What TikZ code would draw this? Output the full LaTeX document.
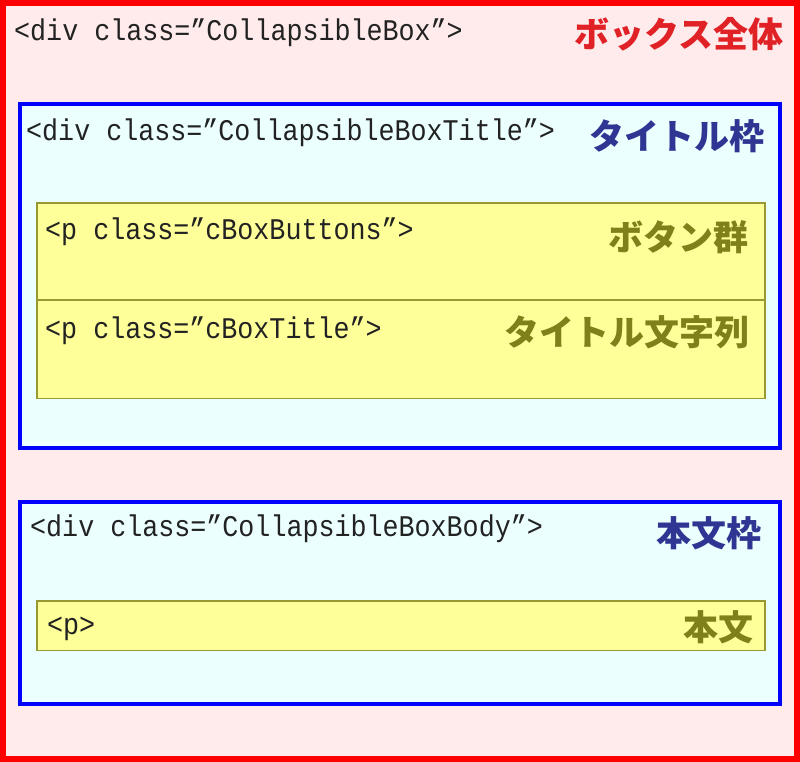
\documentclass[tikz,border=0pt]{standalone}
\usepackage{fontspec}
\newfontfamily\codefont[FakeStretch=0.89]{Liberation Mono}
\newfontfamily\jpfont{Noto Sans CJK JP}
\definecolor{outerfill}{HTML}{FFEBEB}
\definecolor{outerline}{HTML}{FF0000}
\definecolor{divfill}{HTML}{EBFFFF}
\definecolor{divline}{HTML}{0000FF}
\definecolor{pfill}{HTML}{FFFF99}
\definecolor{pline}{HTML}{999933}
\definecolor{redlabel}{HTML}{E02226}
\definecolor{bluelabel}{HTML}{2E3592}
\definecolor{olivelabel}{HTML}{80801A}
\definecolor{codetext}{HTML}{222222}
\tikzset{
  outerbox/.style={draw=outerline, fill=outerfill, line width=6pt, inner sep=0pt},
  divbox/.style={draw=divline, fill=divfill, line width=4pt, inner sep=0pt},
  pbox/.style={draw=pline, fill=pfill, line width=1.8pt, inner sep=0pt},
  code/.style={anchor=base west, inner sep=0pt, text=codetext, font=\codefont\fontsize{30}{34}\selectfont},
  jlabel/.style={anchor=base east, inner sep=0pt, font=\jpfont\bfseries\fontsize{35}{40}\selectfont},
}
\begin{document}
\begin{tikzpicture}[x=1pt,y=-1pt]
\useasboundingbox (0,0) rectangle (800,762);
\node[outerbox, minimum width=794pt, minimum height=756pt] (outer) at (400,381) {};
\node[divbox, minimum width=760pt, minimum height=344pt] (titlediv) at (400,276) {};
\node[divbox, minimum width=760pt, minimum height=202pt] (bodydiv) at (400,603) {};
\node[pbox, minimum width=728pt, minimum height=97pt] (buttons) at (401,251.5) {};
\node[pbox, minimum width=728pt, minimum height=98.5pt] (ptitle) at (401,349.25) {};
\node[pbox, minimum width=728pt, minimum height=49.5pt] (pbody) at (401,625.75) {};

\node[code] (t1) at (14,41) {<div class=”CollapsibleBox”>};
\node[code] (t2) at (26,141) {<div class=”CollapsibleBoxTitle”>};
\node[code] (t3) at (45,240) {<p class=”cBoxButtons”>};
\node[code] (t4) at (45,338) {<p class=”cBoxTitle”>};
\node[code] (t5) at (30,536) {<div class=”CollapsibleBoxBody”>};
\node[code] (t6) at (47,634) {<p>};

\node[jlabel, text=redlabel] (l1) at (784,48) {ボックス全体};
\node[jlabel, text=bluelabel] (l2) at (765,150) {タイトル枠};
\node[jlabel, text=olivelabel] (l3) at (749,250) {ボタン群};
\node[jlabel, text=olivelabel] (l4) at (750,345) {タイトル文字列};
\node[jlabel, text=bluelabel] (l5) at (762,546) {本文枠};
\node[jlabel, text=olivelabel] (l6) at (754,640) {本文};
\end{tikzpicture}
\end{document}
